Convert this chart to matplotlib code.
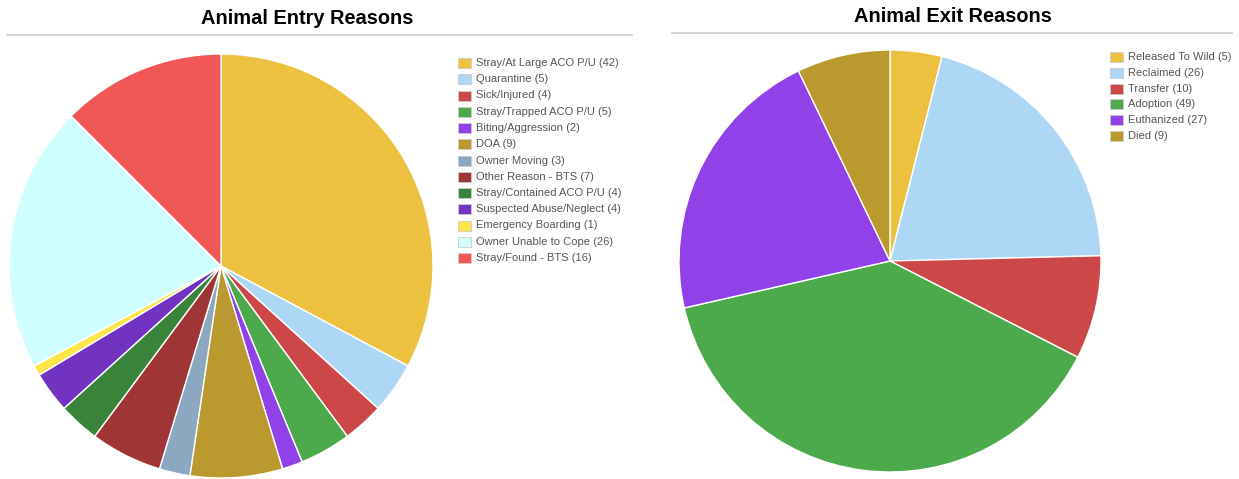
import matplotlib.pyplot as plt
from matplotlib.patches import Rectangle
from matplotlib.lines import Line2D

plt.rcParams['font.family'] = ['Liberation Sans', 'DejaVu Sans']

entry_labels = ["Stray/At Large ACO P/U", "Quarantine", "Sick/Injured", "Stray/Trapped ACO P/U",
                "Biting/Aggression", "DOA", "Owner Moving", "Other Reason - BTS",
                "Stray/Contained ACO P/U", "Suspected Abuse/Neglect", "Emergency Boarding",
                "Owner Unable to Cope", "Stray/Found - BTS"]
entry_counts = [42, 5, 4, 5, 2, 9, 3, 7, 4, 4, 1, 26, 16]
entry_colors = ["#EBC13F", "#AED6F5", "#CC4748", "#4CAA4C", "#9141E8", "#BA9A2E", "#8BA8C0",
                "#9F3535", "#3A833A", "#7233C0", "#FFE44A", "#D0FEFE", "#F25757"]

exit_labels = ["Released To Wild", "Reclaimed", "Transfer", "Adoption", "Euthanized", "Died"]
exit_counts = [5, 26, 10, 49, 27, 9]
exit_colors = ["#EBC13F", "#AED6F5", "#CC4748", "#4CAA4C", "#9141E8", "#BA9A2E"]

W, H = 1239, 479
fig = plt.figure(figsize=(W / 100, H / 100), dpi=100)


def px_axes(x0, y0, w, h):
    # pixel box (top-left origin) to figure axes
    return fig.add_axes([x0 / W, (H - y0 - h) / H, w / W, h / H])


def draw_pie(cx, cy, r, counts, colors):
    ax = px_axes(cx - r, cy - r, 2 * r, 2 * r)
    ax.pie(counts, colors=colors, startangle=90, counterclock=False, radius=1,
           wedgeprops=dict(edgecolor="white", linewidth=1))
    ax.set_xlim(-1, 1)
    ax.set_ylim(-1, 1)
    ax.set_aspect("equal")
    ax.axis("off")
    for p in ax.patches:
        p.set_clip_on(False)


def draw_legend(x, y, step, labels, counts, colors):
    for i, (lab, n, c) in enumerate(zip(labels, counts, colors)):
        yy = y + i * step
        fig.patches.append(Rectangle((x / W, (H - yy - 5) / H), 13 / W, 10 / H,
                                     transform=fig.transFigure, facecolor=c,
                                     edgecolor="#cccccc", linewidth=0.6))
        fig.text((x + 18) / W, (H - yy) / H, f"{lab} ({n})", fontsize=8,
                 color="#555555", va="center", ha="left")


def draw_title(text, cx, ty, lx0, lx1, ly):
    fig.text(cx / W, (H - ty) / H, text, fontsize=14.4, fontweight="bold",
             ha="center", va="center", color="black")
    fig.lines.append(Line2D([lx0 / W, lx1 / W], [(H - ly) / H] * 2,
                            transform=fig.transFigure, color="#cccccc", linewidth=1.2))


draw_pie(221, 266, 212, entry_counts, entry_colors)
draw_pie(890, 261, 211, exit_counts, exit_colors)

draw_legend(458, 63, 16.25, entry_labels, entry_counts, entry_colors)
draw_legend(1110, 57, 15.8, exit_labels, exit_counts, exit_colors)

draw_title("Animal Entry Reasons", 307, 18, 7, 632, 35)
draw_title("Animal Exit Reasons", 953, 16, 672, 1232, 33)

fig.savefig("out.png", dpi=100)
